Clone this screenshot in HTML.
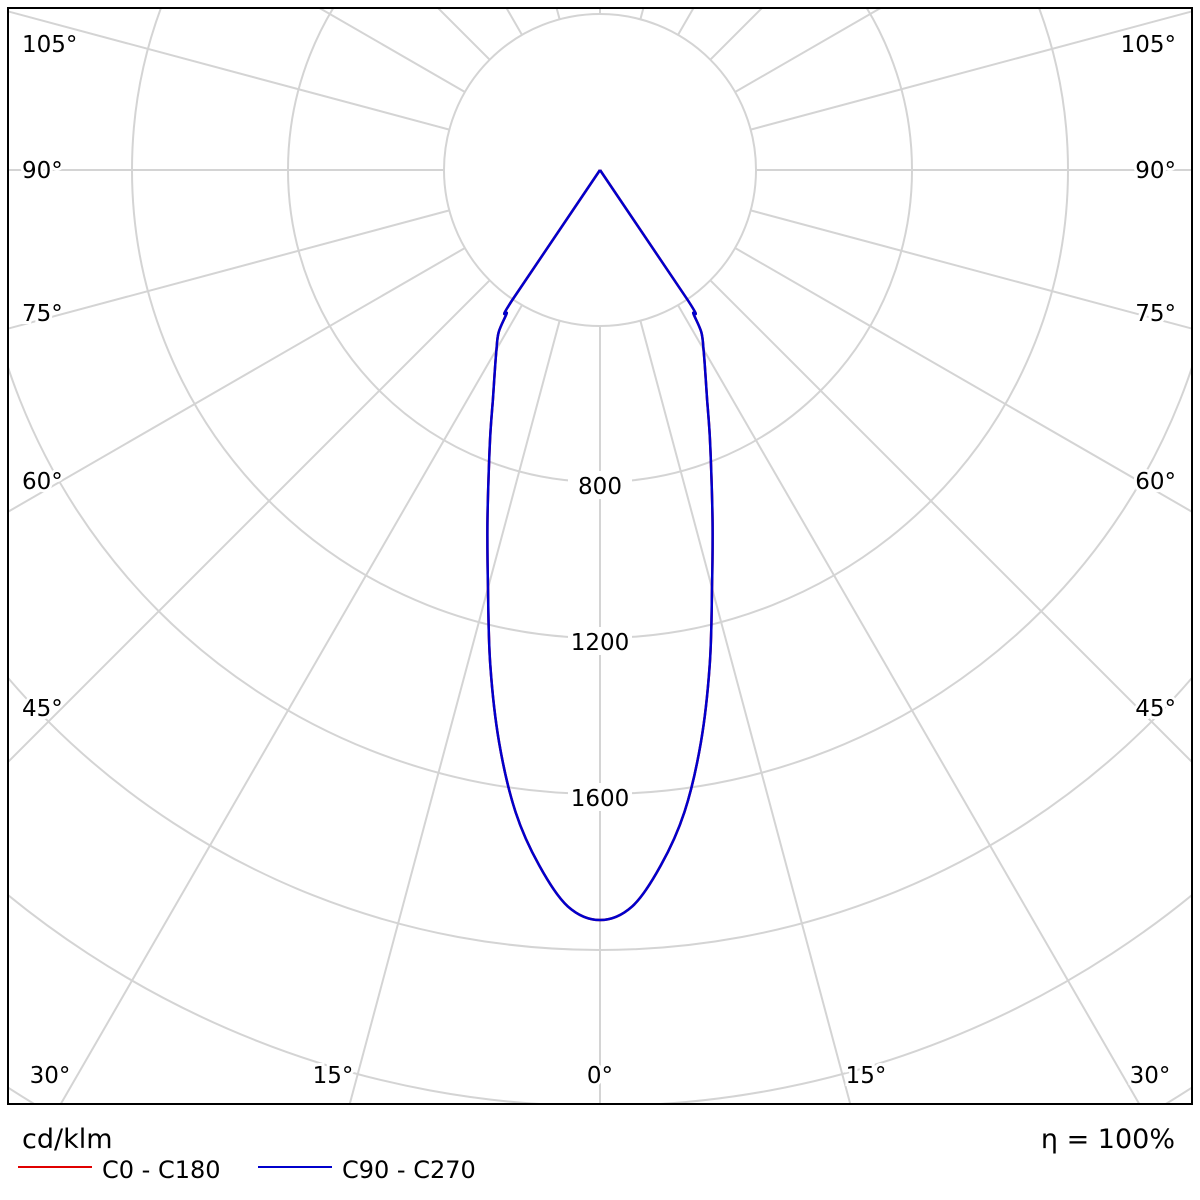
<!DOCTYPE html>
<html><head><meta charset="utf-8"><style>
html,body{margin:0;padding:0;background:#fff;overflow:hidden;width:1200px;height:1200px}
svg{display:block;font-family:"DejaVu Sans","Liberation Sans",sans-serif}
</style></head><body>
<svg width="1200" height="1200" viewBox="0 0 1200 1200" xmlns="http://www.w3.org/2000/svg">
<defs><clipPath id="frame"><rect x="8" y="8" width="1184" height="1096"/></clipPath></defs>
<rect x="0" y="0" width="1200" height="1200" fill="#fff"/>
<g id="grid" clip-path="url(#frame)"></g>
<g id="curves" clip-path="url(#frame)"></g>
<g id="rlabels"></g>
<rect x="8" y="8" width="1184" height="1096" fill="none" stroke="#000" stroke-width="2"/>
<g id="alabels" font-size="23" fill="#000"></g>
<text x="22" y="1148" font-size="27">cd/klm</text>
<text x="1175" y="1148" font-size="27" text-anchor="end">η = 100%</text>
<line x1="18" y1="1167" x2="92" y2="1167" stroke="#e00000" stroke-width="2"/>
<text x="102" y="1178" font-size="24">C0 - C180</text>
<line x1="258" y1="1167" x2="332" y2="1167" stroke="#0000cc" stroke-width="2"/>
<text x="342" y="1178" font-size="24">C90 - C270</text>
</svg>
<script>
const gammas = [0, 2.5, 5, 7.5, 10, 12.5, 15, 17.5, 20, 22.5, 25, 27.5, 30, 32, 33, 34, 35];
const c0Values = [1923, 1890, 1790, 1660, 1490, 1300, 1110, 960, 835, 735, 650, 585, 531, 490, 440, 402, 0];
const c90Values = [1923, 1890, 1790, 1660, 1490, 1300, 1110, 960, 835, 735, 650, 585, 531, 490, 440, 402, 0];
const ringValues = [400, 800, 1200, 1600, 2000, 2400, 2800, 3200];
const ringLabels = ["800", "1200", "1600"];
const angleTicks = [0, 15, 30, 45, 60, 75, 90, 105, 120, 135, 150, 165, 180];

const NS = "http://www.w3.org/2000/svg";
const cx = 600, cy = 170, scale = 0.39;
function rad(v){ return v * scale; }
function px(g, v, side){ return cx + side * rad(v) * Math.sin(g * Math.PI / 180); }
function py(g, v){ return cy + rad(v) * Math.cos(g * Math.PI / 180); }

const grid = document.getElementById('grid');
ringValues.forEach(v => {
  const c = document.createElementNS(NS, 'circle');
  
  
  c.setAttribute('cx', cx); c.setAttribute('cy', cy); c.setAttribute('r', rad(v));
  c.setAttribute('fill', 'none'); c.setAttribute('stroke', '#d4d4d4'); c.setAttribute('stroke-width', '2');
  grid.appendChild(c);
});
angleTicks.forEach(a => {
  [1, -1].forEach(s => {
    const l = document.createElementNS(NS, 'line');
    
    
    l.setAttribute('x1', px(a, 400, s)); l.setAttribute('y1', py(a, 400));
    l.setAttribute('x2', px(a, 4000, s)); l.setAttribute('y2', py(a, 4000));
    l.setAttribute('stroke', '#d4d4d4'); l.setAttribute('stroke-width', '2');
    grid.appendChild(l);
  });
});

function curvePath(vals){
  const right = gammas.map((g, i) => [px(g, vals[i], 1), py(g, vals[i])]);
  const left = gammas.map((g, i) => [px(g, vals[i], -1), py(g, vals[i])]).reverse();
  const pts = left.concat(right.slice(1));
  let d = 'M' + pts[0][0].toFixed(1) + ',' + pts[0][1].toFixed(1);
  for (let i = 0; i < pts.length - 1; i++) {
    const p0 = pts[Math.max(0, i - 1)], p1 = pts[i], p2 = pts[i + 1], p3 = pts[Math.min(pts.length - 1, i + 2)];
    const t = (i === 0 || i === pts.length - 2) ? 0 : 1 / 6;
    const c1 = [p1[0] + (p2[0] - p0[0]) * t, p1[1] + (p2[1] - p0[1]) * t];
    const c2 = [p2[0] - (p3[0] - p1[0]) * t, p2[1] - (p3[1] - p1[1]) * t];
    d += ' C' + c1[0].toFixed(1) + ',' + c1[1].toFixed(1) + ' ' + c2[0].toFixed(1) + ',' + c2[1].toFixed(1) + ' ' + p2[0].toFixed(1) + ',' + p2[1].toFixed(1);
  }
  return d;
}
const curves = document.getElementById('curves');
const pr = document.createElementNS(NS, 'path');


pr.setAttribute('d', curvePath(c0Values));
pr.setAttribute('fill', 'none'); pr.setAttribute('stroke', '#e00000'); pr.setAttribute('stroke-width', '2.5'); pr.setAttribute('stroke-linejoin', 'round');
curves.appendChild(pr);
const pb = document.createElementNS(NS, 'path');


pb.setAttribute('d', curvePath(c90Values));
pb.setAttribute('fill', 'none'); pb.setAttribute('stroke', '#0000cc'); pb.setAttribute('stroke-width', '2.5'); pb.setAttribute('stroke-linejoin', 'round');
curves.appendChild(pb);

const rl = document.getElementById('rlabels');
ringLabels.forEach(t => {
  const v = parseFloat(t);
  const y = py(0, v) + 3;
  const bg = document.createElementNS(NS, 'rect');
  
  
  bg.setAttribute('x', cx - 32); bg.setAttribute('y', y - 14); bg.setAttribute('width', 64); bg.setAttribute('height', 28);
  bg.setAttribute('fill', '#fff');
  rl.appendChild(bg);
  const tx = document.createElementNS(NS, 'text');
  
  
  tx.setAttribute('x', cx); tx.setAttribute('y', y + 9);
  tx.setAttribute('text-anchor', 'middle'); tx.setAttribute('font-size', '23');
  tx.textContent = t;
  rl.appendChild(tx);
});

const angleLabels = [
  ["105°", 22, 52, "start"], ["105°", 1176, 52, "end"],
  ["90°", 22, 178, "start"], ["90°", 1176, 178, "end"],
  ["75°", 22, 321, "start"], ["75°", 1176, 321, "end"],
  ["60°", 22, 489, "start"], ["60°", 1176, 489, "end"],
  ["45°", 22, 716, "start"], ["45°", 1176, 716, "end"],
  ["30°", 50, 1083, "middle"], ["15°", 333, 1083, "middle"], ["0°", 600, 1083, "middle"],
  ["15°", 866, 1083, "middle"], ["30°", 1150, 1083, "middle"]
];
const al = document.getElementById('alabels');
angleLabels.forEach(a => {
  const t = document.createElementNS(NS, 'text');
  
  
  t.setAttribute('x', a[1]); t.setAttribute('y', a[2]); t.setAttribute('text-anchor', a[3]);
  t.setAttribute('stroke', '#fff'); t.setAttribute('stroke-width', '6'); t.setAttribute('paint-order', 'stroke');
  t.textContent = a[0];
  al.appendChild(t);
});
</script>
</body></html>
